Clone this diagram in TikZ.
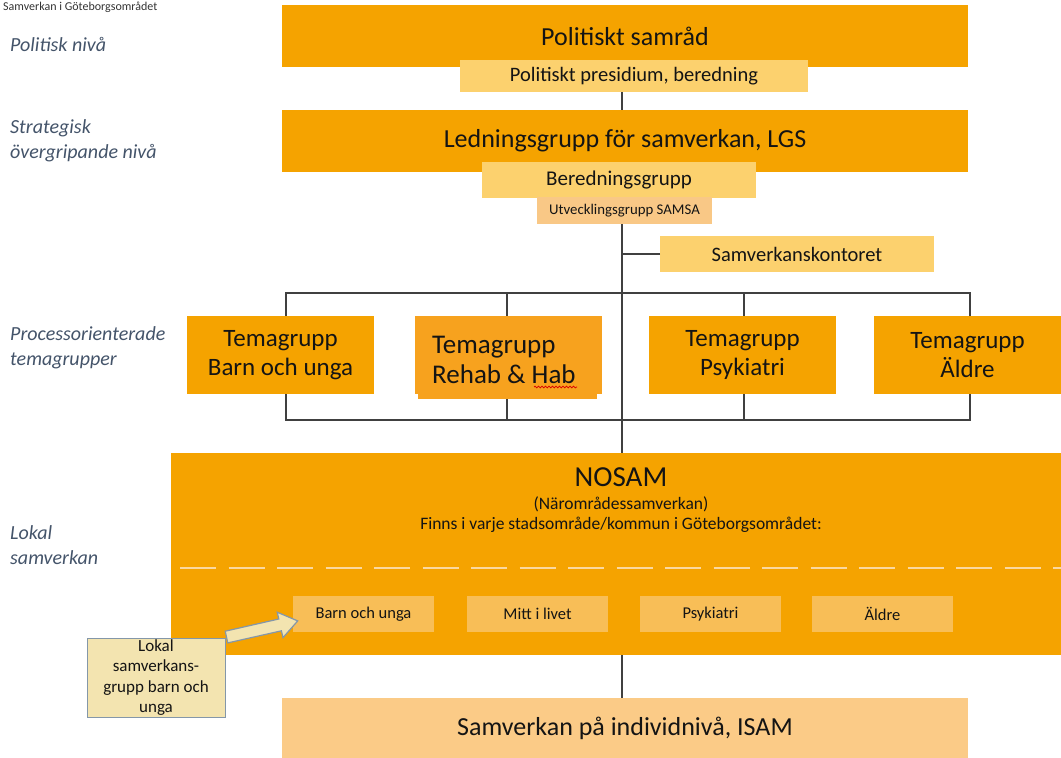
\documentclass[tikz,border=0pt]{standalone}
\usepackage{fontspec}
\setmainfont{Carlito}
\usetikzlibrary{decorations.pathmorphing}
\definecolor{orangeM}{HTML}{F5A300}
\definecolor{rehabC}{HTML}{F7A21E}
\definecolor{lightY}{HTML}{FCD16E}
\definecolor{peachC}{HTML}{F9C886}
\definecolor{isamC}{HTML}{FBCB87}
\definecolor{smallC}{HTML}{F8BE57}
\definecolor{calloutF}{HTML}{F3E4B0}
\definecolor{calloutD}{HTML}{8497A9}
\definecolor{lineC}{HTML}{404040}
\definecolor{txtC}{HTML}{141414}
\definecolor{levelC}{HTML}{44546A}
\definecolor{dashC}{HTML}{FAD8A0}
\begin{document}
\begin{tikzpicture}[x=1pt,y=-1pt,
  box/.style={inner sep=0pt, outer sep=0pt, align=center, text=txtC, anchor=north west},
  lvl/.style={inner sep=0pt, anchor=west, align=left, text=levelC, font={\fontsize{20}{25}\selectfont\itshape}},
  conn/.style={draw=lineC, line width=1.4pt},
  big/.style={font={\fontsize{26}{31}\selectfont}},
  mid/.style={font={\fontsize{20.5}{24}\selectfont}},
  tema/.style={box, fill=orangeM, minimum width=187pt, minimum height=78pt, font={\fontsize{25}{29.5}\selectfont}},
  small/.style={box, fill=smallC, minimum width=141pt, minimum height=36pt, font={\fontsize{16.5}{20}\selectfont}}
]
\useasboundingbox (0,0) rectangle (1061,758);
\clip (0,0) rectangle (1061,758);
\fill[white] (0,0) rectangle (1061,758);

% header
\node[inner sep=0pt, anchor=base west, text=black!80, font={\fontsize{12}{14}\selectfont}] (hdr) at (3,10.5) {Samverkan i Göteborgsområdet};

% level labels
\node[lvl] (lv1) at (10,44) {Politisk nivå};
\node[lvl] (lv2) at (10,140.5) {Strategisk\\övergripande nivå};
\node[lvl] (lv3) at (10,347.5) {Processorienterade\\temagrupper};
\node[lvl] (lv4) at (10,545.5) {Lokal\\samverkan};

% spine and bracket coordinates
\coordinate (spine) at (622,0);
\coordinate (brTL) at (286,293);
\coordinate (brBR) at (970,420);
\draw[conn] (brTL) rectangle (brBR);
\draw[conn] (507,293) -- (507,420);
\draw[conn] (744,293) -- (744,420);

% top boxes
\node[box, fill=orangeM, minimum width=686pt, minimum height=62pt, big] (P1) at (282,5) {Politiskt samråd};
\node[box, fill=lightY, minimum width=348pt, minimum height=32pt, mid] (P2) at (460,60) {Politiskt presidium, beredning};
\node[box, fill=orangeM, minimum width=686pt, minimum height=62pt, big] (L1) at (282,110) {Ledningsgrupp för samverkan, LGS};
\node[box, fill=lightY, minimum width=274pt, minimum height=36pt, font={\fontsize{21}{25}\selectfont}] (L2) at (482,162) {Beredningsgrupp};
\node[box, fill=peachC, minimum width=175pt, minimum height=27pt, font={\fontsize{14.8}{17}\selectfont}] (L3) at (537,197) {Utvecklingsgrupp SAMSA};
\node[box, fill=lightY, minimum width=274pt, minimum height=36pt, mid] (SK) at (660,236) {Samverkanskontoret};

% tema groups
\node[tema] (T1) at (187,316) {Temagrupp\\Barn och unga};
\fill[rehabC] (418,320) rectangle (597,399);
\node[tema, fill=rehabC] (T2) at (415,316) {};
\node[inner sep=0pt, anchor=west, align=left, text=txtC, font={\fontsize{27}{30}\selectfont}] (T2t) at (432,360) {Temagrupp\\Rehab \& Hab};
\draw[red!85!black, line width=0.7pt, decorate, decoration={snake, amplitude=0.9pt, segment length=3.5pt}] (534,387) -- (577,387);
\node[tema] (T3) at (649,316) {Temagrupp\\Psykiatri};
\node[tema] (T4) at (874,316) {Temagrupp\\Äldre};

% NOSAM
\node[box, fill=orangeM, minimum width=890pt, minimum height=202pt] (N) at (171,453) {};
\node[inner sep=0pt, text=txtC, font={\fontsize{29}{34}\selectfont}] (Nt1) at (621,477) {NOSAM};
\node[inner sep=0pt, text=txtC, font={\fontsize{17.5}{21}\selectfont}] (Nt2) at (621,504) {(Närområdessamverkan)};
\node[inner sep=0pt, text=txtC, font={\fontsize{17.5}{21}\selectfont}] (Nt3) at (621,525) {Finns i varje stadsområde/kommun i Göteborgsområdet:};
\draw[dashC, line width=2.8pt, dash pattern=on 36pt off 12.5pt] (180,568) -- (1061,568);
\node[small] (S1) at (293,596) {Barn och unga};
\node[small] (S2) at (467,596) {Mitt i livet};
\node[small] (S3) at (640,596) {Psykiatri};
\node[small] (S4) at (812,596) {Äldre};

% ISAM
\node[box, fill=isamC, minimum width=686pt, minimum height=60pt, big] (I) at (282,698) {Samverkan på individnivå, ISAM};

% connectors
\draw[conn] (P2.south -| spine) -- (L1.north -| spine);
\draw[conn] (L3.south -| spine) -- (N.north -| spine);
\draw[conn] (SK.west) -- (SK.west -| spine);
\draw[conn] (N.south -| spine) -- (I.north -| spine);

% callout
\node[box, fill=calloutF, draw=calloutD, line width=1pt, minimum width=138pt, minimum height=79pt, font={\fontsize{17}{20.5}\selectfont}] (LC) at (87,638) {Lokal\\samverkans-\\grupp barn och\\unga};
\draw[fill=calloutF, draw=calloutD, line width=1.2pt, line join=miter]
  (225.2,631.2) -- (278.8,619.0) -- (277.2,612.2) -- (297.7,620.9) -- (283.0,637.6) -- (281.4,630.8) -- (227.8,642.9) -- cycle;
\end{tikzpicture}
\end{document}
